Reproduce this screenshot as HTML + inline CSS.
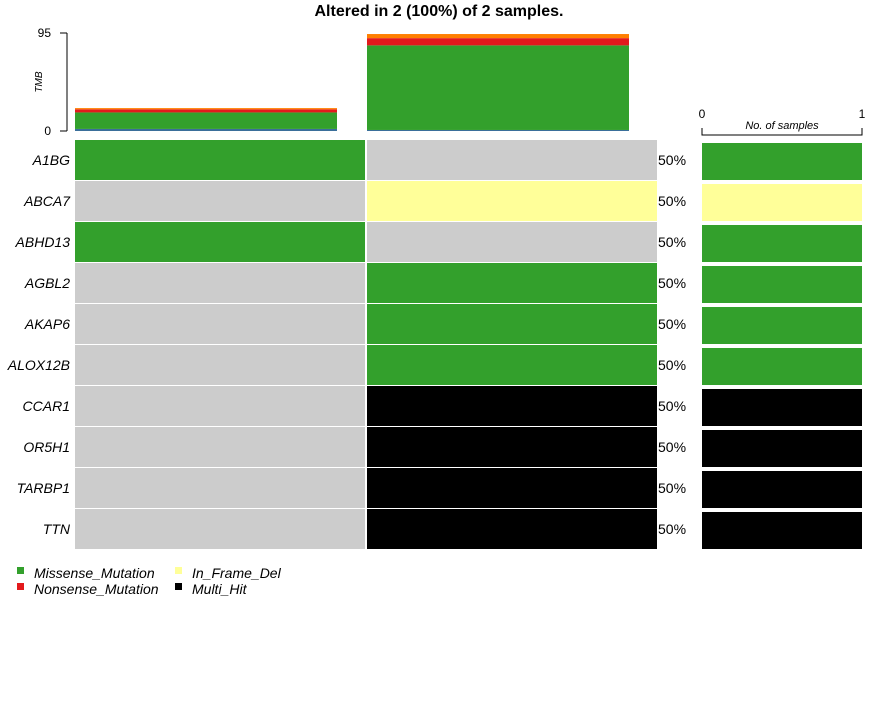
<!DOCTYPE html>
<html><head><meta charset="utf-8"><style>
body{margin:0;background:#fff;width:878px;height:696px;overflow:hidden}
svg text{font-family:"Liberation Sans",Arial,sans-serif}
</style></head><body>
<svg id="c" width="878" height="696" xmlns="http://www.w3.org/2000/svg">
<text x="439" y="16" text-anchor="middle" font-size="16" font-weight="bold">Altered in 2 (100%) of 2 samples.</text>
</svg>
<script>
const genes=["A1BG","ABCA7","ABHD13","AGBL2","AKAP6","ALOX12B","CCAR1","OR5H1","TARBP1","TTN"];
const sampleCalls=[
 ["Missense_Mutation",null,"Missense_Mutation",null,null,null,null,null,null,null],
 [null,"In_Frame_Del",null,"Missense_Mutation","Missense_Mutation","Missense_Mutation","Multi_Hit","Multi_Hit","Multi_Hit","Multi_Hit"]
];
const pctLabels=["50%","50%","50%","50%","50%","50%","50%","50%","50%","50%"];
const geneCounts=[1,1,1,1,1,1,1,1,1,1];
const geneTypes=["Missense_Mutation","In_Frame_Del","Missense_Mutation","Missense_Mutation","Missense_Mutation","Missense_Mutation","Multi_Hit","Multi_Hit","Multi_Hit","Multi_Hit"];
const tmbTypes=["other","Missense_Mutation","Nonsense_Mutation","Frame_Shift"];
const tmbS1=[2,16,3,1.2];
const tmbS2=[1,82,7,4];
const colors={Missense_Mutation:"#33A02C",In_Frame_Del:"#FFFF99",Multi_Hit:"#000000",Nonsense_Mutation:"#E31A1C",Frame_Shift:"#FF7F00",other:"#3A6F9A",none:"#CCCCCC"};
const svg=document.getElementById('c');const NS="http://www.w3.org/2000/svg";
function mk(t,a,p){const e=document.createElementNS(NS,t);for(const k in a)e.setAttribute(k,a[k]);(p||svg).appendChild(e);return e;}
// scales
const tmbMax=95,tmbY0=131,tmbY1=33;
const yT=v=>tmbY0-(v/tmbMax)*(tmbY0-tmbY1);
const colX=[75,367],colW=290;
const rowY=i=>140+i*41,rowH=40;
const cntX0=702,cntW=160,cntMax=1;
const xC=v=>cntX0+v/cntMax*cntW;
// TMB axis
let l=mk('line',{x1:67,y1:33,x2:67,y2:131,stroke:'#000'});

[[95,33],[0,131]].forEach(([v])=>{mk('line',{x1:60,y1:yT(v),x2:67,y2:yT(v),stroke:'#000'});
 const t=mk('text',{x:51,y:yT(v)+4,'text-anchor':'end','font-size':12});t.textContent=v;
 });
let tt=mk('text',{x:0,y:0,'font-size':10,'font-style':'italic','text-anchor':'middle',transform:'translate(42,82) rotate(-90)'});tt.textContent='TMB';

[tmbS1,tmbS2].forEach((vals,s)=>{let acc=0;vals.forEach((v,k)=>{
 const r=mk('rect',{x:colX[s],y:yT(acc+v),width:262,height:yT(acc)-yT(acc+v),fill:colors[tmbTypes[k]]});
 acc+=v;});});
// grid
genes.forEach((g,i)=>{
 const t=mk('text',{x:70,y:rowY(i)+25,'text-anchor':'end','font-size':14,'font-style':'italic'});t.textContent=g;
 
 sampleCalls.forEach((calls,s)=>{const c=calls[i];
  const r=mk('rect',{x:colX[s],y:rowY(i),width:colW,height:rowH,fill:c?colors[c]:colors.none});
  });
 const p=mk('text',{x:658,y:rowY(i)+25,'font-size':14});p.textContent=pctLabels[i];
 
 const b=mk('rect',{x:cntX0,y:rowY(i)+3,width:xC(geneCounts[i])-cntX0,height:37,fill:colors[geneTypes[i]]});
 
});
// count axis
mk('path',{d:`M${xC(0)},128 V135 H${xC(1)} V128`,stroke:'#000',fill:'none'});
[0,1].forEach(v=>{const t=mk('text',{x:xC(v),y:118,'text-anchor':'middle','font-size':12});t.textContent=v;
 });
let ct=mk('text',{x:782,y:129,'text-anchor':'middle','font-size':11,'font-style':'italic'});ct.textContent='No. of samples';

// legend
[["Missense_Mutation",17,573],["Nonsense_Mutation",17,589],["In_Frame_Del",175,573],["Multi_Hit",175,589]].forEach(([n,x,y])=>{
 const r=mk('rect',{x:x,y:y-6,width:7,height:7,fill:colors[n]});
 
 const t=mk('text',{x:x+17,y:y+5,'font-size':14,'font-style':'italic'});t.textContent=n;
 });
</script>
</body></html>
